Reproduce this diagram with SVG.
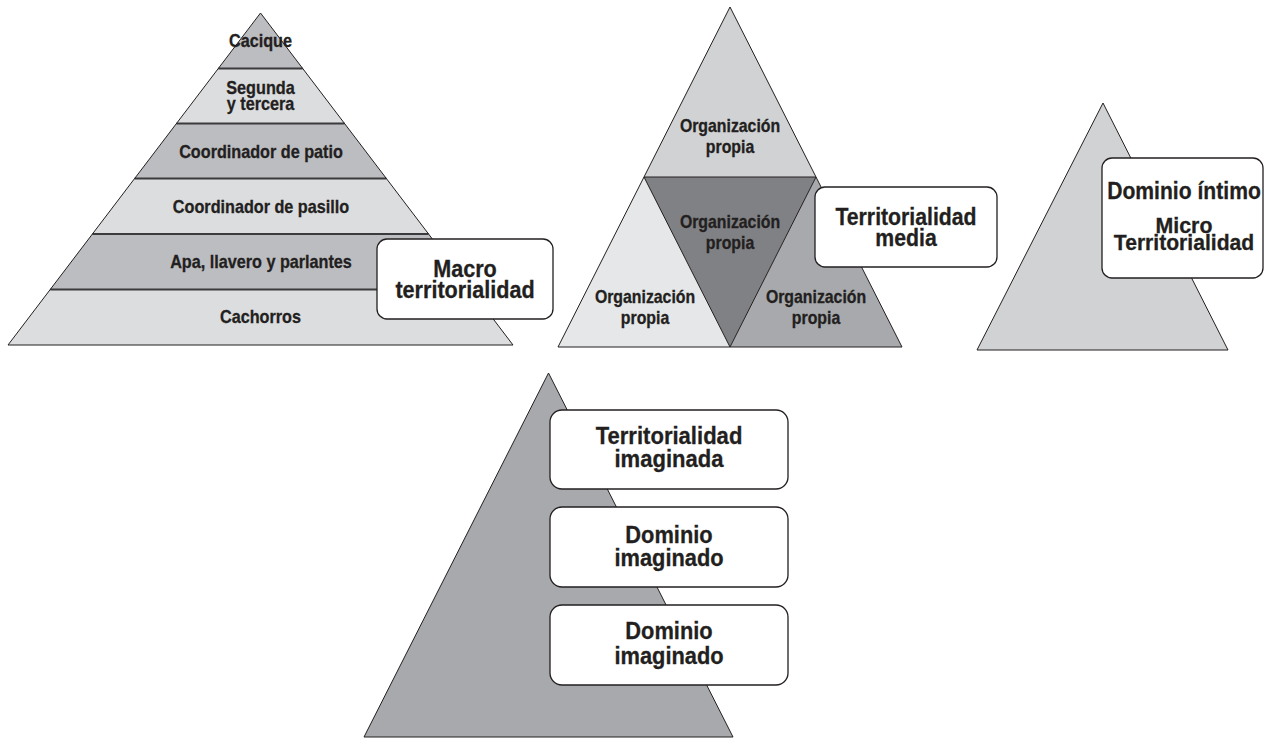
<svg xmlns="http://www.w3.org/2000/svg" width="1265" height="739" viewBox="0 0 1265 739">
<style>
text{font-family:"Liberation Sans",Arial,sans-serif;font-weight:bold;fill:#231f20;stroke:#231f20;stroke-width:0.3;text-anchor:middle}
.lbl{font-size:18px}
.big{font-size:24px}
.mid{font-size:22px}
.edge{stroke:#231f20;stroke-width:1;stroke-linejoin:miter}
.band{stroke:#3b3b3d;stroke-width:2}
.box{fill:#ffffff;stroke:#231f20;stroke-width:1.3}
.dk{fill:#bcbdc0}
.lt{fill:#dcdddf}
</style>
<rect width="1265" height="739" fill="#ffffff"/>

<g id="pyramid-macro">
  <polygon class="dk" points="260.5,13 302.7,68.5 218.3,68.5"/>
  <polygon class="lt" points="218.3,68.5 302.7,68.5 344.5,123.5 176.5,123.5"/>
  <polygon class="dk" points="176.5,123.5 344.5,123.5 386.4,178.5 134.6,178.5"/>
  <polygon class="lt" points="134.6,178.5 386.4,178.5 428.6,234 92.4,234"/>
  <polygon class="dk" points="92.4,234 428.6,234 470.8,289.5 50.2,289.5"/>
  <polygon class="lt" points="50.2,289.5 470.8,289.5 513,345 8,345"/>
  <g class="band">
    <line x1="218.3" y1="68.5" x2="302.7" y2="68.5"/>
    <line x1="176.5" y1="123.5" x2="344.5" y2="123.5"/>
    <line x1="134.6" y1="178.5" x2="386.4" y2="178.5"/>
    <line x1="92.4" y1="234" x2="428.6" y2="234"/>
    <line x1="50.2" y1="289.5" x2="470.8" y2="289.5"/>
  </g>
  <polygon class="edge" fill="none" points="260.5,13 513,345 8,345"/>
  <text class="lbl" transform="translate(260.5 47) scale(0.9 1)">Cacique</text>
  <text class="lbl" transform="translate(260.5 94) scale(0.9 1)">Segunda</text>
  <text class="lbl" transform="translate(260.5 110) scale(0.9 1)">y tercera</text>
  <text class="lbl" transform="translate(261 158) scale(0.9 1)">Coordinador de patio</text>
  <text class="lbl" transform="translate(261 213) scale(0.9 1)">Coordinador de pasillo</text>
  <text class="lbl" transform="translate(261 268) scale(0.9 1)">Apa, llavero y parlantes</text>
  <text class="lbl" transform="translate(260.5 323) scale(0.9 1)">Cachorros</text>
</g>
<g id="box-macro">
  <rect class="box" x="377" y="239" width="176" height="80" rx="10"/>
  <text class="big" transform="translate(465 277) scale(0.9 1)">Macro</text>
  <text class="big" transform="translate(465 298) scale(0.9 1)">territorialidad</text>
</g>

<g id="pyramid-media">
  <polygon fill="#d1d2d4" points="730,7 816,177 644,177"/>
  <polygon fill="#e6e7e8" points="644,177 730,347 558,347"/>
  <polygon fill="#a7a9ac" points="816,177 902,347 730,347"/>
  <polygon fill="#808184" points="644,177 816,177 730,347"/>
  <polygon class="edge" fill="none" points="644,177 816,177 730,347"/>
  <polygon class="edge" fill="none" points="730,7 902,347 558,347"/>
  <text class="lbl" transform="translate(730 132) scale(0.88 1)">Organización</text>
  <text class="lbl" transform="translate(730 153) scale(0.88 1)">propia</text>
  <text class="lbl" transform="translate(730 228) scale(0.88 1)">Organización</text>
  <text class="lbl" transform="translate(730 249) scale(0.88 1)">propia</text>
  <text class="lbl" transform="translate(645 303) scale(0.88 1)">Organización</text>
  <text class="lbl" transform="translate(645 324) scale(0.88 1)">propia</text>
  <text class="lbl" transform="translate(816 303) scale(0.88 1)">Organización</text>
  <text class="lbl" transform="translate(816 324) scale(0.88 1)">propia</text>
</g>
<g id="box-media">
  <rect class="box" x="815" y="187" width="182" height="80" rx="10"/>
  <text class="big" transform="translate(906 225) scale(0.885 1)">Territorialidad</text>
  <text class="big" transform="translate(906 246) scale(0.885 1)">media</text>
</g>

<g id="pyramid-micro">
  <polygon class="edge" fill="#d1d2d4" points="1103,103 1228,350 977,350"/>
</g>
<g id="box-micro">
  <rect class="box" x="1102" y="158" width="161" height="120" rx="10"/>
  <text class="big" transform="translate(1184 199) scale(0.88 1)">Dominio íntimo</text>
  <text class="mid" transform="translate(1184 233) scale(0.97 1)">Micro</text>
  <text class="mid" transform="translate(1184 250) scale(0.96 1)">Territorialidad</text>
</g>

<g id="pyramid-imaginada">
  <polygon class="edge" fill="#a7a9ac" points="548.5,373 733,737 364,737"/>
</g>
<g id="box-imaginada-1">
  <rect class="box" x="550" y="410" width="238" height="79" rx="12"/>
  <text class="big" transform="translate(669 444) scale(0.92 1)">Territorialidad</text>
  <text class="big" transform="translate(669 467) scale(0.92 1)">imaginada</text>
</g>
<g id="box-imaginada-2">
  <rect class="box" x="550" y="507" width="238" height="80" rx="12"/>
  <text class="big" transform="translate(669 543) scale(0.91 1)">Dominio</text>
  <text class="big" transform="translate(669 566) scale(0.91 1)">imaginado</text>
</g>
<g id="box-imaginada-3">
  <rect class="box" x="550" y="605" width="238" height="80" rx="12"/>
  <text class="big" transform="translate(669 639) scale(0.91 1)">Dominio</text>
  <text class="big" transform="translate(669 664) scale(0.91 1)">imaginado</text>
</g>
<g id="connectors"/>
</svg>
